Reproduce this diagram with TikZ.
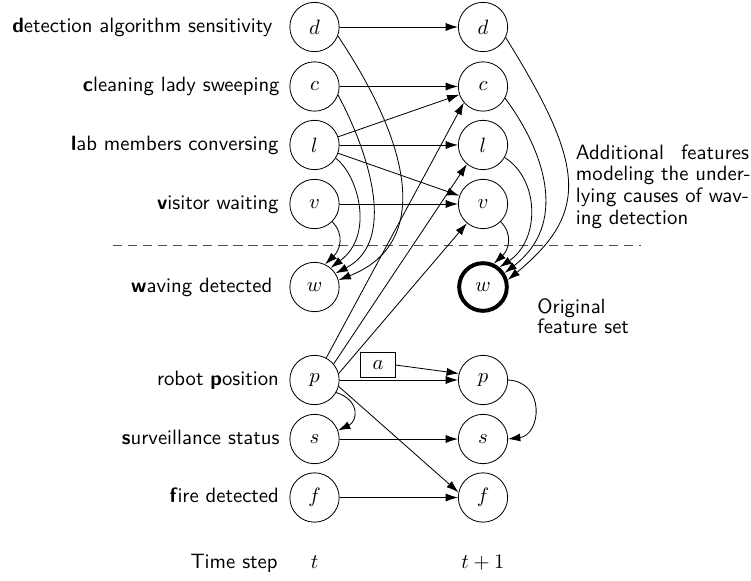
\documentclass[tikz,border=0pt]{standalone}
\usetikzlibrary{arrows.meta}
\begin{document}
\begin{tikzpicture}[x=0.4825pt,y=-0.4825pt,
  var/.style={draw,circle,minimum size=23.8pt,inner sep=0pt},
  obs/.style={draw,circle,minimum size=23pt,inner sep=0pt,line width=1.9pt},
  lbl/.style={anchor=base east,font=\sffamily,inner sep=0pt},
  txt/.style={font=\sffamily,inner sep=0pt},
  arr/.style={-{Latex[length=5.9pt,width=3.9pt]}},
  act/.style={draw,minimum width=16.5pt,minimum height=12pt,inner sep=0pt},
  sep/.style={dash pattern=on 4.5pt off 2.75pt,draw=black!70,line width=0.55pt}]
\useasboundingbox (0,0) rectangle (751,581);

% state variables at time t
\node[var] (d0) at (314.5,27)  {$d$};
\node[var] (c0) at (314.5,86.5) {$c$};
\node[var] (l0) at (314.5,145) {$l$};
\node[var] (v0) at (314.5,204) {$v$};
\node[var] (w0) at (314.5,287) {$w$};
\node[var] (p0) at (314.5,380) {$p$};
\node[var] (s0) at (314.5,439) {$s$};
\node[var] (f0) at (314.5,497.5) {$f$};

% state variables at time t+1
\node[var] (d1) at (483,27)  {$d$};
\node[var] (c1) at (483,86.5) {$c$};
\node[var] (l1) at (483,145) {$l$};
\node[var] (v1) at (483,204) {$v$};
\node[obs] (w1) at (483,287) {$w$};
\node[var] (p1) at (483,380) {$p$};
\node[var] (s1) at (483,439) {$s$};
\node[var] (f1) at (483,497.5) {$f$};

% action
\node[act] (a) at (378,365) {$a$};

% variable names
\node[lbl] (nd) at (272.7,32.2) {\textbf{d}etection algorithm sensitivity};
\node[lbl] (nc) at (280,91.7) {\textbf{c}leaning lady sweeping};
\node[lbl] (nl) at (279,150.2) {\textbf{l}ab members conversing};
\node[lbl] (nv) at (279,209.2) {\textbf{v}isitor waiting};
\node[lbl] (nw) at (272.7,292.2) {\textbf{w}aving detected};
\node[lbl] (np) at (279.3,385.2) {robot \textbf{p}osition};
\node[lbl] (ns) at (280,444.2) {\textbf{s}urveillance status};
\node[lbl] (nf) at (279.3,502.7) {\textbf{f}ire detected};

% time axis
\node[lbl] (ts) at (278,568.3) {Time step};
\node[anchor=base,inner sep=0pt] (t0) at (314.5,568.3) {$t$};
\node[anchor=base,inner sep=0pt] (t1) at (483,568.3) {$t+1$};

% separator between added and original features
\draw[sep] (113,245.5) -- (641,245.5);

% annotations
\node[txt,text width=83.5pt,align=left,font=\sffamily\linespread{0.875}\selectfont]
  (extra) at (662.5,186.5) {Additional\hfill features\\\mbox{modeling the under-}\\\mbox{lying causes of wav-}\\ing detection};
\node[txt,anchor=west,align=left,font=\sffamily\linespread{0.8}\selectfont]
  (orig) at (537,316.6) {Original\\feature set};

% persistence arcs
\draw[arr] (d0) -- (d1);
\draw[arr] (c0) -- (c1);
\draw[arr] (l0) -- (l1);
\draw[arr] (v0) -- (v1);
\draw[arr] (p0) -- (p1);
\draw[arr] (s0) -- (s1);
\draw[arr] (f0) -- (f1);

% cross arcs
\draw[arr] (l0) -- (c1);
\draw[arr] (l0) -- (v1);
\draw[arr] (p0.62) -- (c1.220);
\draw[arr] (p0.40) -- (l1.230);
\draw[arr] (p0.15) -- (v1.230);
\draw[arr] (p0.-15) -- (f1.168);
\draw[arr] (a.east) -- (p1.165);

% synchronic arcs
\draw[arr] (p0.-30) .. controls (360,400) and (358,421) .. (s0.20);
\draw[arr] (p1.east) .. controls (546,382) and (541,435) .. (s1.east);

\draw[arr] (v0.-45) .. controls (345,235) and (340,250) .. (w0.65);
\draw[arr] (l0.-32) .. controls (358,175) and (375,235) .. (w0.50);
\draw[arr] (c0.-20) .. controls (365,145) and (400,240) .. (w0.33);
\draw[arr] (d0.-21) .. controls (416,153) and (428,245) .. (w0.16);

\draw[arr] (v1.-45) .. controls (513.5,235) and (508.5,250) .. (w1.65);
\draw[arr] (l1.-30) .. controls (540,180) and (540,240) .. (w1.50);
\draw[arr] (c1.-28) .. controls (547,155) and (567,225) .. (w1.33);
\draw[arr] (d1.-25) .. controls (585,165) and (590,212) .. (w1.16);
\end{tikzpicture}
\end{document}
